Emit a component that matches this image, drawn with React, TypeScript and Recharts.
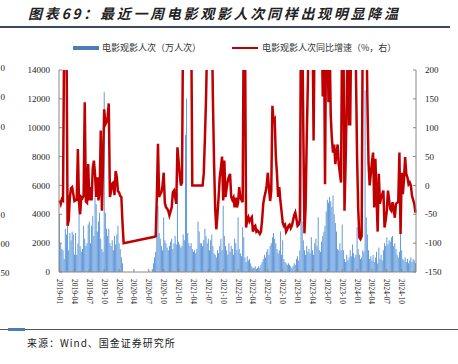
import React from 'react';
import { ComposedChart, Bar, Line, XAxis, YAxis } from 'recharts';

// weekly cinema audience (10k people), one array per year, 52 weeks each
const audience2019 = [
  4000, 2000, 1600, 1500, 900, 3000, 2600, 3200, 1500, 2700,
  2200, 2800, 2600, 1200, 2700, 1200, 2000, 4600, 1800, 1400,
  1600, 3200, 2300, 1800, 2000, 3300, 3500, 2000, 3200, 3900,
  2500, 5300, 4700, 2800, 3500, 4100, 2300, 1600, 1400, 12450,
  4100, 3000, 2500, 3000, 2000, 1800, 2200, 1500, 2500, 1900,
  2600, 3200,
];
const audience2020 = [
  2000, 1600, 1000, 600, 0, 0, 0, 0, 0, 0,
  0, 0, 0, 0, 0, 0, 0, 0, 0, 0,
  0, 0, 0, 0, 0, 0, 0, 0, 0, 200,
  600, 1000, 1400, 2700, 4600, 2700, 2300, 1800, 1500, 3800,
  2200, 2000, 1700, 1500, 1800, 2100, 2300, 1600, 2000, 2500,
  1900, 5500,
];
const audience2021 = [
  2100, 1900, 1700, 1800, 2600, 2200, 9500, 12000, 2700, 2000,
  1800, 2000, 1600, 1400, 1500, 1300, 1600, 3500, 2800, 2000,
  2000, 1800, 2200, 3000, 2500, 2000, 2300, 1500, 2200, 2600,
  1800, 1300, 1200, 1000, 1500, 1300, 1800, 2300, 1500, 4600,
  2500, 1800, 1500, 1200, 2000, 1400, 1800, 1600, 1200, 2300,
  2000, 1500,
];
const audience2022 = [
  3800, 1600, 1300, 1100, 3100, 2400, 1000, 700, 1100, 800,
  900, 600, 400, 300, 300, 400, 200, 300, 400, 300,
  500, 700, 900, 1200, 1000, 1400, 1600, 1200, 1800, 2000,
  2400, 2700, 2300, 2000, 1600, 1300, 1500, 2800, 1200, 2200,
  900, 700, 600, 500, 600, 500, 400, 300, 400, 600,
  500, 900,
];
const audience2023 = [
  1100, 800, 1500, 13000, 3500, 2200, 1500, 1200, 1800, 1400,
  1600, 1300, 2400, 1500, 1200, 2000, 2300, 1800, 3800, 1500,
  1400, 2100, 2500, 2800, 3200, 4200, 5000, 4800, 5200, 4900,
  4500, 5300, 4000, 3400, 2800, 1600, 1500, 2000, 1500, 3300,
  1500, 900, 700, 1200, 800, 1000, 1500, 1100, 1900, 1300,
  1000, 1200,
];
const audience2024 = [
  3100, 1600, 1200, 900, 1000, 1500, 1400, 12600, 3800, 2600,
  1500, 900, 1100, 800, 1200, 700, 1000, 1400, 600, 1700,
  900, 1200, 800, 1500, 2000, 1800, 2400, 1900, 2200, 2100,
  2400, 2500, 1800, 2000, 1600, 1200, 1000, 1400, 3300, 1500,
  900, 800, 1000, 700, 900, 600, 800, 1000, 700, 900,
  800, 600,
];

// year-on-year growth (%), null while cinemas were closed
const growth2019 = [
  -26, -32, -24, -26, 260, 300, 280, -70, -60, -20,
  -5, -3, -15, -27, -26, -25, 63, -30, -50, -20,
  -22, -18, 144, -28, -30, 37, -26, -3, -26, 30,
  43, 20, -20, 14, -26, -10, 95, -44, 37, 132,
  106, 110, 118, 142, -20, -10, 3, 5, -17, 25,
  15, -10,
];
const growth2020 = [
  -12, -18, -20, -65, -100, null, null, null, null, null,
  null, null, null, null, null, null, null, null, null, null,
  null, null, null, null, null, null, null, null, null, null,
  null, -89, -88, -20, 72, -20, -15, -12, 0, 22,
  -30, -38, -40, -44, -52, -45, -38, -12, -9, -20,
  -32, 66,
];
const growth2021 = [
  43, 20, 0, 5, 300, 300, 300, 300, 300, 300,
  300, 300, 0, 0, 0, 0, 0, 0, 0, 0,
  0, 0, 20, 80, 150, 250, 300, 300, 300, 300,
  150, 40, -40, -76, -50, -20, 15, 30, 50, -26,
  43, -20, -5, 8, 15, 20, -20, -25, -21, -38,
  -21, -38,
];
const growth2022 = [
  -30, -3, -21, -25, -29, 300, 300, -73, -60, -55,
  -62, -58, -55, -80, -72, -70, -80, -78, -81, -84,
  -80, -60, -32, -20, -12, 0, 22, -5, -27, -10,
  138, 112, 115, 50, 20, -20, -3, -27, -45, -64,
  -70, -68, -80, -76, -70, -68, -74, -70, -61, -52,
  -47, -58,
];
const growth2023 = [
  -70, -68, -60, 300, 300, 100, -83, -40, 80, 180,
  300, 300, 300, 300, 78, 300, 300, 300, 300, 300,
  300, 300, 154, 300, 2, 300, 300, 144, 250, 120,
  80, 57, 71, 37, 55, 71, 37, 20, 5, 300,
  300, -44, 40, 150, 300, 106, 106, 300, 300, 300,
  300, 200,
];
const growth2024 = [
  50, -40, -90, -93, -88, 300, 300, 300, 300, 150,
  40, 0, 20, 40, 57, -38, 46, -20, -80, 20,
  -32, -21, -15, -9, -73, -60, -44, -9, -25, -41,
  -44, -29, -40, -56, -32, -30, -29, 57, -84, 22,
  -15, 10, 49, 20, 14, 2, 5, 0, -18, -25,
  -32, -47,
];

const quarterLabels = [
  '2019-01', '2019-04', '2019-07', '2019-10',
  '2020-01', '2020-04', '2020-07', '2020-10',
  '2021-01', '2021-04', '2021-07', '2021-10',
  '2022-01', '2022-04', '2022-07', '2022-10',
  '2023-01', '2023-04', '2023-07', '2023-10',
  '2024-01', '2024-04', '2024-07', '2024-10',
];
const leftTicks = [0, 2000, 4000, 6000, 8000, 10000, 12000, 14000];
const rightTicks = [-150, -100, -50, 0, 50, 100, 150, 200];
// what shows of the neighbouring chart's axis labels at the page edge
const strayLabels = ['0', '0', '0', '', '', '0', '00', '50'];

const WEEKS_PER_QUARTER = 13;

const audience = [
  ...audience2019, ...audience2020, ...audience2021,
  ...audience2022, ...audience2023, ...audience2024,
];
const growth = [
  ...growth2019, ...growth2020, ...growth2021,
  ...growth2022, ...growth2023, ...growth2024,
];
const data = audience.map((v, i) => ({ idx: i, audience: v, growth: growth[i] }));

const serif = '"Liberation Serif", "Times New Roman", serif';
const cjk = '"Noto Sans CJK SC", "Noto Sans", sans-serif';

const QuarterTick = ({ x, y, payload }: any) => {
  const label = quarterLabels[Math.round(payload.value / WEEKS_PER_QUARTER)];
  return (
    <text
      x={x}
      y={y}
      transform={`rotate(90, ${x}, ${y})`}
      textAnchor="start"
      dominantBaseline="central"
      fontSize={7.5}
      fill="#222"
      fontFamily={serif}
    >
      {label}
    </text>
  );
};

export default function App() {
  return (
    <div
      style={{
        position: 'fixed',
        left: 0,
        top: 0,
        width: 458,
        height: 364,
        overflow: 'hidden',
        background: '#fff',
      }}
    >
      <div style={{ position: 'absolute', left: 0, top: 0 }}>
        <ComposedChart
          width={458}
          height={364}
          data={data}
          margin={{ top: 70, right: 0, bottom: 52, left: 0 }}
        >
          <XAxis
            dataKey="idx"
            interval={WEEKS_PER_QUARTER - 1}
            height={40}
            tickSize={-3}
            tickMargin={10}
            stroke="#888"
            tick={<QuarterTick />}
          />
          <YAxis
            yAxisId="l"
            domain={[0, 14000]}
            ticks={leftTicks}
            width={59}
            tickSize={-3}
            tickMargin={12}
            stroke="#888"
            tick={{ fontSize: 9, fill: '#222', fontFamily: serif }}
          />
          <YAxis
            yAxisId="r"
            orientation="right"
            domain={[-150, 200]}
            ticks={rightTicks}
            allowDataOverflow
            width={42}
            tickSize={-3}
            tickMargin={12}
            stroke="#888"
            tick={{ fontSize: 9, fill: '#222', fontFamily: serif, textAnchor: 'start' }}
          />
          <Bar yAxisId="l" dataKey="audience" fill="#5592d8" isAnimationActive={false} />
          <Line
            yAxisId="r"
            dataKey="growth"
            type="linear"
            stroke="#c00000"
            strokeWidth={2.5}
            dot={false}
            activeDot={false}
            connectNulls
            isAnimationActive={false}
          />
        </ComposedChart>
      </div>

      <svg
        width={458}
        height={364}
        style={{ position: 'absolute', left: 0, top: 0, pointerEvents: 'none' }}
      >
        {strayLabels.map((t, k) =>
          t ? (
            <text
              key={k}
              x={0.5}
              y={68 + k * 29.3}
              dominantBaseline="central"
              fontSize={9}
              fill="#222"
              fontFamily={serif}
            >
              {t}
            </text>
          ) : null
        )}
      </svg>

      <div
        style={{
          position: 'absolute',
          left: 28,
          top: 5,
          fontFamily: cjk,
          fontSize: 14,
          lineHeight: '16px',
          fontWeight: 700,
          fontStyle: 'italic',
          letterSpacing: 2.7,
          color: '#222',
          whiteSpace: 'nowrap',
        }}
      >
        图表69：最近一周电影观影人次同样出现明显降温
      </div>
      <div style={{ position: 'absolute', left: 0, top: 26, width: 450, height: 1.5, background: '#3b4a5e' }} />

      <div style={{ position: 'absolute', left: 73, top: 46, width: 26, height: 4, background: '#4a7ebb' }} />
      <div
        style={{
          position: 'absolute',
          left: 102,
          top: 42,
          fontFamily: cjk,
          fontSize: 9,
          lineHeight: '12px',
          color: '#333',
          whiteSpace: 'nowrap',
        }}
      >
        电影观影人次（万人次）
      </div>
      <div style={{ position: 'absolute', left: 232, top: 47, width: 26, height: 2, background: '#c00000' }} />
      <div
        style={{
          position: 'absolute',
          left: 262,
          top: 42,
          fontFamily: cjk,
          fontSize: 9,
          lineHeight: '12px',
          color: '#333',
          whiteSpace: 'nowrap',
        }}
      >
        电影观影人次同比增速（%，右）
      </div>

      <div style={{ position: 'absolute', left: 0, top: 328.5, width: 458, height: 1.5, background: '#555' }} />
      <div style={{ position: 'absolute', left: 8, top: 328, width: 17, height: 2.5, background: '#4a7ebb' }} />
      <div
        style={{
          position: 'absolute',
          left: 27,
          top: 336,
          fontFamily: cjk,
          fontSize: 10,
          lineHeight: '14px',
          letterSpacing: 1,
          color: '#222',
          whiteSpace: 'nowrap',
        }}
      >
        来源：Wind、国金证券研究所
      </div>
    </div>
  );
}
